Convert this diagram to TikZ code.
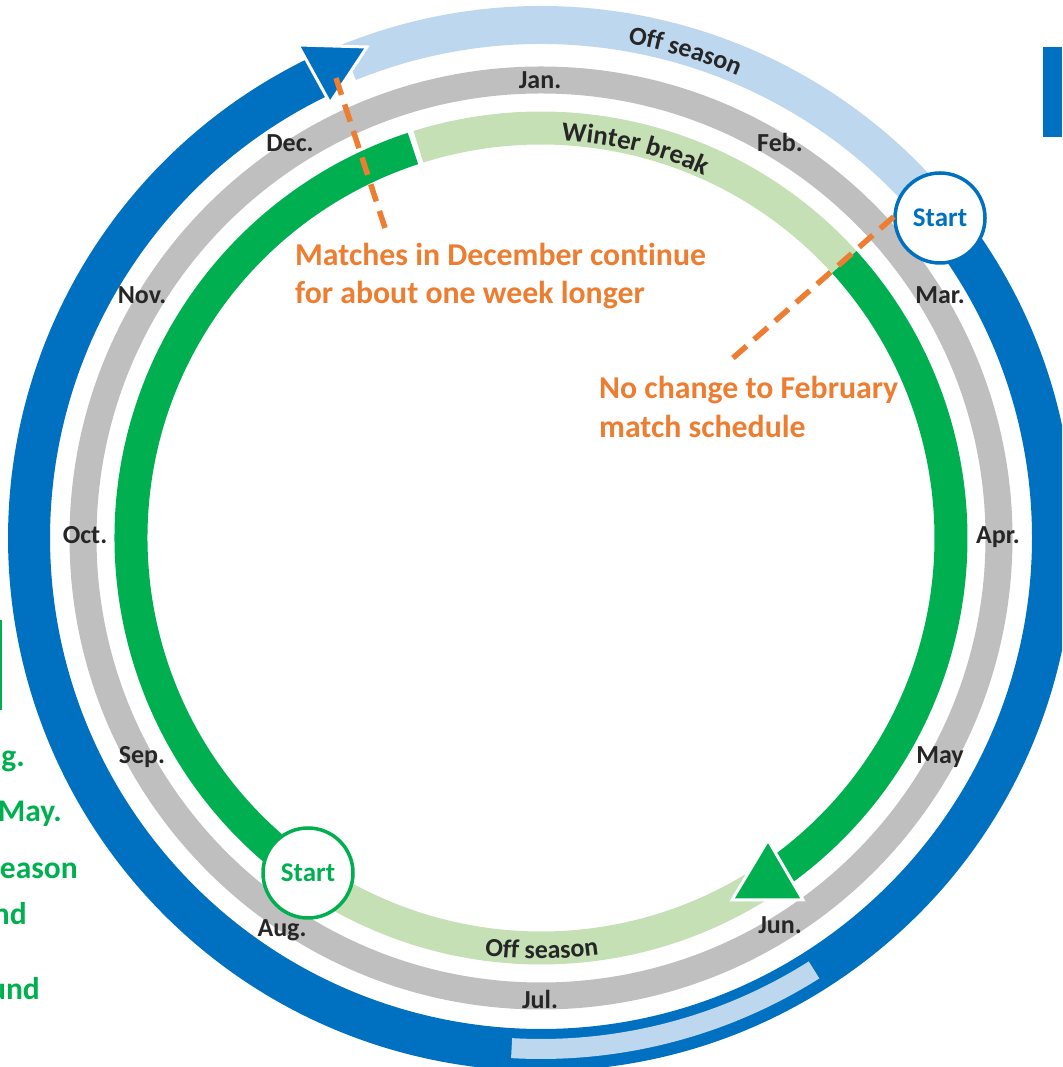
\documentclass[tikz,border=0pt]{standalone}
\usepackage{fontspec}
\setmainfont{Carlito}[Ligatures={NoCommon}]
\usetikzlibrary{calc,decorations.text}
\definecolor{cblue}{HTML}{0070C0}
\definecolor{lblue}{HTML}{BDD7EE}
\definecolor{cgreen}{HTML}{00B050}
\definecolor{lgreen}{HTML}{C5E0B4}
\definecolor{cgray}{HTML}{BFBFBF}
\definecolor{corange}{HTML}{ED7D31}
\definecolor{ctext}{HTML}{262626}
\begin{document}
\begin{tikzpicture}[x=1pt,y=1pt,
  month/.style={font=\fontsize{26}{30}\selectfont\bfseries, text=ctext, inner sep=0pt, text height=16.7pt, text depth=0pt},
  note/.style={font=\fontsize{31.8}{38.5}\selectfont\bfseries, text=corange, inner sep=0pt, align=left, anchor=north west},
  frag/.style={font=\fontsize{31.5}{38}\selectfont\bfseries, text=cgreen, inner sep=0pt, anchor=base east},
  startnode/.style={circle, fill=white, line width=3.5pt, minimum size=90pt, inner sep=0pt, font=\fontsize{27}{30}\selectfont\bfseries},
  guide/.style={corange, line width=5.5pt, dash pattern=on 18pt off 10pt},
  band/.style={line width=#1},
  arrowtri/.style={draw=white, line width=3pt, line join=miter}
]
\useasboundingbox (0,0) rectangle (1062,1067);
\clip (0,0) rectangle (1062,1067);
\coordinate (C) at (541,529);

% gray month ring
\draw[cgray, band=27pt] (C) circle[radius=458];

% green season ring
\draw[cgreen, band=33pt] ($(C)+(235.2:410)$) arc[start angle=235.2, end angle=108.2, radius=410];
\draw[lgreen, band=33pt] ($(C)+(107.4:410)$) arc[start angle=107.4, end angle=42.3, radius=410];
\draw[cgreen, band=33pt] ($(C)+(42.3:410)$) arc[start angle=42.3, end angle=-54, radius=410];
\draw[lgreen, band=33pt] ($(C)+(-56:410)$) arc[start angle=-56, end angle=-124.8, radius=410];

% blue ring
\draw[lblue, band=38pt] ($(C)+(112:513)$) arc[start angle=112, end angle=38.7, radius=513];
\draw[cblue, band=42pt] ($(C)+(38.7:512)$) arc[start angle=38.7, end angle=-244, radius=512];
\draw[lblue, band=20pt] ($(C)+(-93.3:511)$) arc[start angle=-93.3, end angle=-57.7, radius=511];

% arrow heads
\filldraw[cblue, arrowtri] (298,1022) -- (330,964) -- (367,1020) -- cycle;
\filldraw[cgreen, arrowtri] (768,227) -- (732,167) -- (803,167) -- cycle;

% curved labels
\path[decorate, decoration={text along path, text align=center,
  text={|\fontsize{26}{30}\selectfont\bfseries\color{ctext}|Off season}}]
  ($(C)+(98:502)$) arc[start angle=98, end angle=49, radius=502];
\path[decorate, decoration={text along path, text align=center,
  text={|\fontsize{27}{30}\selectfont\bfseries\color{ctext}|Winter break}}]
  ($(C)+(106:398)$) arc[start angle=106, end angle=46.8, radius=398];
\path[decorate, decoration={text along path, text align=center,
  text={|\fontsize{26}{30}\selectfont\bfseries\color{ctext}|Off season}}]
  ($(C)+(-115:421)$) arc[start angle=-115, end angle=-64.8, radius=421];

% month labels
\node[month] (jan) at (540,987) {Jan.};
\node[month] (feb) at (780,924) {Feb.};
\node[month] (mar) at (940,772) {Mar.};
\node[month] (apr) at (998,532) {Apr.};
\node[month] (may) at (940,312) {May};
\node[month] (jun) at (780,142) {Jun.};
\node[month] (jul) at (540,67) {Jul.};
\node[month] (aug) at (282,139) {Aug.};
\node[month] (sep) at (142,312) {Sep.};
\node[month] (oct) at (85,532) {Oct.};
\node[month] (nov) at (142,772) {Nov.};
\node[month] (dec) at (290,924) {Dec.};

% start circles
\node[startnode, draw=cblue, text=cblue] (startB) at (940,849) {Start};
\node[startnode, draw=cgreen, text=cgreen] (startG) at (308,194) {Start};

% orange notes and guides
\node[note] (noteDec) at (295,824) {Matches in December continue\\for about one week longer};
\node[note] (noteFeb) at (599,691) {No change to February\\match schedule};
\coordinate (gDecA) at (385,839);
\coordinate (gDecB) at (336,989);
\coordinate (gFebA) at (733,709);
\coordinate (gFebB) at (898,854);
\draw[guide] (gDecA) -- (gDecB);
\draw[guide] (gFebA) -- (gFebB);

% cut-off elements at the edges
\fill[cblue] (1043,1020) rectangle (1062,930);
\fill[cgreen] (0,447) rectangle (2,357);
\node[frag] (f1) at (25,300) {g.};
\node[frag] (f2) at (62,245) {May.};
\node[frag] (f3) at (78,188) {eason};
\node[frag] (f4) at (27,142) {nd};
\node[frag] (f5) at (40,67) {und};
\end{tikzpicture}
\end{document}
